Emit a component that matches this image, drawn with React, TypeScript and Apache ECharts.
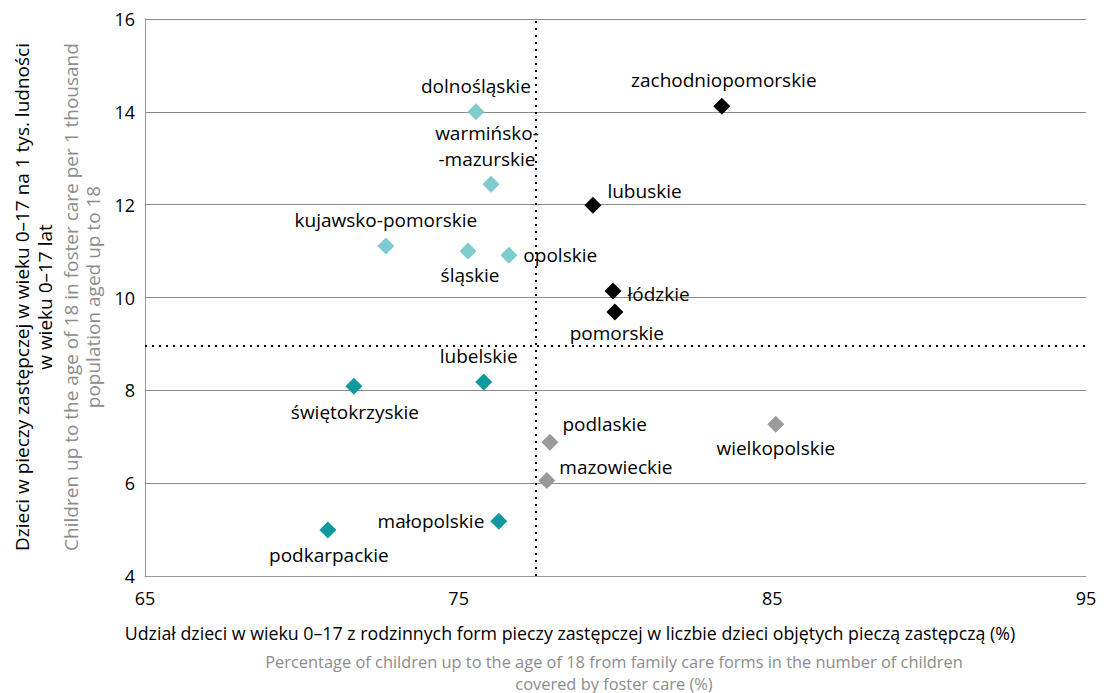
import React, { useEffect, useRef } from "react";
import * as echarts from "echarts";

const regions = [
  "dolnośląskie", "warmińsko-\n-mazurskie", "kujawsko-pomorskie", "śląskie", "opolskie",
  "zachodniopomorskie", "lubuskie", "łódzkie", "pomorskie",
  "lubelskie", "świętokrzyskie", "małopolskie", "podkarpackie",
  "podlaskie", "wielkopolskie", "mazowieckie",
];
const familyShare = [75.55, 76.03, 72.68, 75.3, 76.6, 83.39, 79.28, 79.92, 79.98, 75.8, 71.66, 76.28, 70.83, 77.91, 85.11, 77.81];
const perThousand = [14.0, 12.44, 11.11, 11.0, 10.91, 14.12, 11.99, 10.14, 9.69, 8.18, 8.09, 5.18, 4.99, 6.88, 7.27, 6.06];
const groupOf = [0, 0, 0, 0, 0, 1, 1, 1, 1, 2, 2, 2, 2, 3, 3, 3];
const groupColors = ["#7ecbd0", "#000000", "#12999f", "#9a9a9a"];
const medianX = 77.46;
const medianY = 8.95;
const yTicks = { min: 4, max: 16, interval: 2 };
const xTicks = { min: 65, max: 95, interval: 10 };

// label placement per region (presentation only)
const labelPos: any[] = [
  { position: "top", distance: 6 },
  { position: "top", distance: 4, offset: [-4, 0], align: "center", lineHeight: 26 },
  { position: "top", distance: 6 },
  { position: "bottom", distance: 4, offset: [2, 0] },
  { position: "right", distance: 6 },
  { position: "top", distance: 6, offset: [2, 0] },
  { position: "right", distance: 6, offset: [0, -14] },
  { position: "right", distance: 6, offset: [0, 3] },
  { position: "bottom", distance: 1, offset: [2, 0] },
  { position: "top", distance: 6, offset: [-5, 0] },
  { position: "bottom", distance: 6, offset: [1, 0] },
  { position: "left", distance: 6 },
  { position: "bottom", distance: 5, offset: [1, 0] },
  { position: "right", distance: 4, offset: [0, -18] },
  { position: "bottom", distance: 4 },
  { position: "right", distance: 4, offset: [0, -13] },
];

const FONT = "Open Sans";

export default function App() {
  const ref = useRef<HTMLDivElement>(null);
  useEffect(() => {
    if (!ref.current) return;
    const chart = echarts.init(ref.current, null, { renderer: "svg" });
    const series: any[] = groupColors.map((color, g) => ({
      type: "scatter",
      symbol: "diamond",
      symbolSize: 17,
      itemStyle: { color, opacity: 1 },
      label: { show: true, color: "#000", fontSize: 19, fontFamily: FONT, formatter: "{b}", lineHeight: 23 },
      data: regions
        .map((name, i) => ({ i, name }))
        .filter((d) => groupOf[d.i] === g)
        .map((d) => ({
          name: d.name,
          value: [familyShare[d.i], perThousand[d.i]],
          label: labelPos[d.i],
        })),
    }));
    series.push({
      type: "scatter",
      data: [],
      markLine: {
        silent: true,
        symbol: "none",
        label: { show: false },
        lineStyle: { color: "#000", type: [2, 5], width: 2, opacity: 1 },
        data: [{ xAxis: medianX }, { yAxis: medianY }],
      },
    });
    chart.setOption({
      animation: false,
      textStyle: { fontFamily: FONT },
      grid: { left: 145, right: 23, top: 19, bottom: 117 },
      xAxis: {
        type: "value",
        ...xTicks,
        axisLine: { show: true, lineStyle: { color: "#999" } },
        axisTick: { show: false },
        splitLine: { show: false },
        axisLabel: { color: "#000", fontSize: 18, fontFamily: FONT, margin: 13 },
      },
      yAxis: {
        type: "value",
        ...yTicks,
        axisLine: { show: true, lineStyle: { color: "#999" } },
        axisTick: { show: false },
        splitLine: { show: true, lineStyle: { color: "#8a8a8a", width: 1 } },
        axisLabel: { color: "#000", fontSize: 18, fontFamily: FONT, margin: 10 },
      },
      series,
      graphic: [
        {
          type: "group",
          x: 56,
          y: 297,
          rotation: Math.PI / 2,
          children: [
            {
              type: "text",
              x: 0,
              y: 0,
              style: {
                text: "Dzieci w pieczy zastępczej w wieku 0–17 na 1 tys. ludności\nw wieku 0–17 lat",
                fill: "#000",
                font: `19px '${FONT}'`,
                lineHeight: 23,
                align: "center",
                verticalAlign: "bottom",
              },
            },
            {
              type: "text",
              x: 0,
              y: 4,
              style: {
                text: "Children up to the age of 18 in foster care per 1 thousand\npopulation aged up to 18",
                fill: "#8c8c8c",
                font: `19px '${FONT}'`,
                lineHeight: 22,
                align: "center",
                verticalAlign: "top",
              },
            },
          ],
        },
        {
          type: "text",
          x: 570,
          y: 624,
          style: {
            text: "Udział dzieci w wieku 0–17 z rodzinnych form pieczy zastępczej w liczbie dzieci objętych pieczą zastępczą (%)",
            fill: "#000",
            font: `17.8px '${FONT}'`,
            align: "center",
            verticalAlign: "top",
          },
        },
        {
          type: "text",
          x: 614,
          y: 650,
          style: {
            text: "Percentage of children up to the age of 18 from family care forms in the number of children\ncovered by foster care (%)",
            fill: "#8c8c8c",
            font: `16.4px '${FONT}'`,
            lineHeight: 22,
            align: "center",
            verticalAlign: "top",
          },
        },
      ],
    });
    return () => chart.dispose();
  }, []);
  return <div ref={ref} style={{ width: 1109, height: 693, position: "absolute", left: 0, top: 0 }} />;
}
